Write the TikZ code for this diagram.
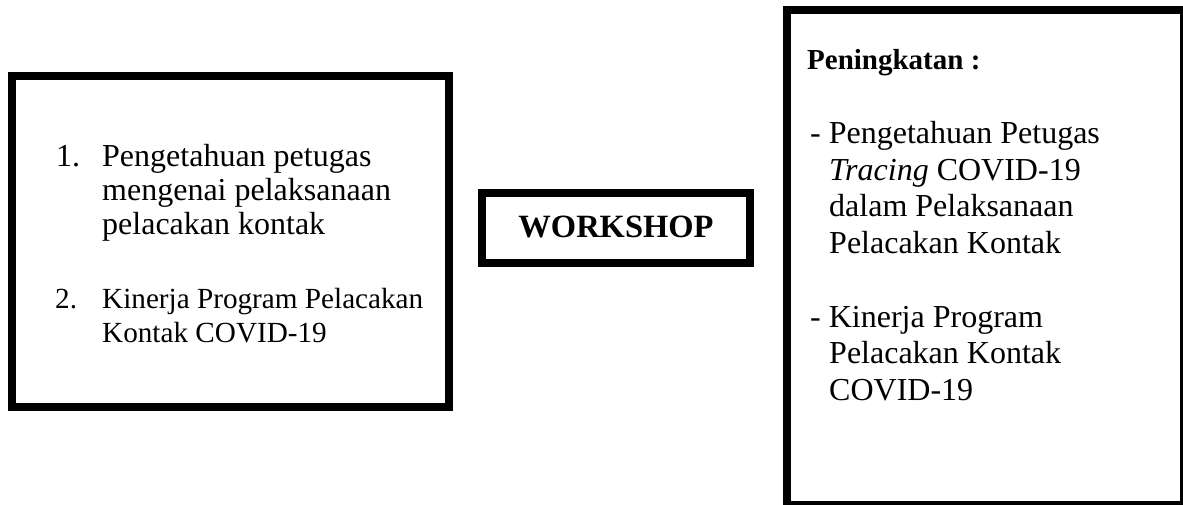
\documentclass[tikz,border=0pt]{standalone}
\usepackage{fontspec}
\setmainfont{Liberation Serif}
\tikzset{
  frame/.style={draw=black, line width=8pt, fill=none},
  txt/.style={inner sep=0pt, anchor=base west, font=\fontsize{29.2}{34}\selectfont},
  txtb/.style={inner sep=0pt, anchor=base west, font=\fontsize{32}{36}\selectfont},
  head/.style={inner sep=0pt, anchor=base west, font=\fontsize{29}{34}\selectfont\bfseries},
  big/.style={inner sep=0pt, anchor=base, font=\fontsize{32.5}{36}\selectfont\bfseries}
}
\begin{document}
\begin{tikzpicture}[x=1pt,y=-1pt]
\useasboundingbox (0,0) rectangle (1183,504);
\begin{scope}
\clip (0,0) rectangle (1183,504);
\draw[frame] (12,76) rectangle (449,407);
\draw[frame] (482,193) rectangle (750,263);
\draw[frame] (787,10) rectangle (1184,505);
\end{scope}
\node[big] (ws) at (616,237) {WORKSHOP};
% left box text
\node[txtb] (n1) at (56,166) {1.};
\node[txtb] (l1) at (102,166) {Pengetahuan petugas};
\node[txtb] (l2) at (102,200) {mengenai pelaksanaan};
\node[txtb] (l3) at (102,234) {pelacakan kontak};
\node[txt] (n2) at (55,308) {2.};
\node[txt] (l4) at (102,308) {Kinerja Program Pelacakan};
\node[txt] (l5) at (102,342) {Kontak COVID-19};
% right box text
\node[head] (h) at (807,69) {Peningkatan :};
\node[txtb] (r1) at (810,143) {- Pengetahuan Petugas};
\node[txtb] (r2) at (829,180) {\textit{Tracing} COVID-19};
\node[txtb] (r3) at (829,216) {dalam Pelaksanaan};
\node[txtb] (r4) at (829,253) {Pelacakan Kontak};
\node[txtb] (r5) at (810,327) {- Kinerja Program};
\node[txtb] (r6) at (829,363) {Pelacakan Kontak};
\node[txtb] (r7) at (829,400) {COVID-19};
\end{tikzpicture}
\end{document}
